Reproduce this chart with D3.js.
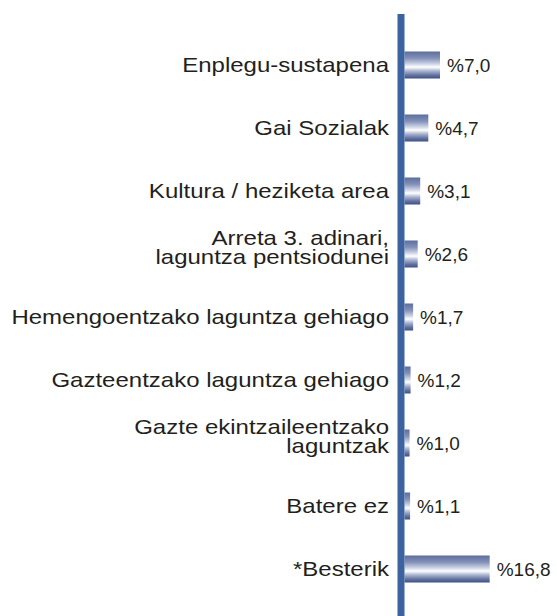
<!DOCTYPE html>
<html><head><meta charset="utf-8">
<script src="https://cdn.jsdelivr.net/npm/d3@7"></script>
<style>body{margin:0;background:#fff}</style>
</head><body>
<svg id="c" width="557" height="616"></svg>
<script>
const categories = [
  ["Enplegu-sustapena"],
  ["Gai Sozialak"],
  ["Kultura / heziketa area"],
  ["Arreta 3. adinari,", "laguntza pentsiodunei"],
  ["Hemengoentzako laguntza gehiago"],
  ["Gazteentzako laguntza gehiago"],
  ["Gazte ekintzaileentzako", "laguntzak"],
  ["Batere ez"],
  ["*Besterik"]
];
const values = [7.0, 4.7, 3.1, 2.6, 1.7, 1.2, 1.0, 1.1, 16.8];
const valueLabels = ["%7,0", "%4,7", "%3,1", "%2,6", "%1,7", "%1,2", "%1,0", "%1,1", "%16,8"];

const svg = d3.select("#c");
const ids = categories.map((c, i) => "c" + i);
const y = d3.scaleBand().domain(ids).range([33.5, 600.5]).paddingInner(0.571).paddingOuter(0.2855);
const x = d3.scaleLinear().domain([0, 20]).range([404.5, 505.9]);

const defs = svg.append("defs");
const g = defs.append("linearGradient").attr("id", "bg").attr("x1", 0).attr("y1", 0).attr("x2", 0).attr("y2", 1);
[[0, "#5c6e9e"], [0.25, "#8391b8"], [0.45, "#c9d0e3"], [0.58, "#ffffff"], [0.72, "#a9b4d0"], [0.88, "#62729f"], [1, "#3e5185"]]
  .forEach(([o, c]) => g.append("stop").attr("offset", o).attr("stop-color", c));

svg.selectAll("rect.bar").data(values).join("rect").attr("class", "bar")
  .attr("x", x(0)).attr("y", (d, i) => y(ids[i]))
  .attr("width", d => x(d) - x(0)).attr("height", y.bandwidth())
  .attr("fill", "url(#bg)");

svg.append("line").attr("x1", 401).attr("x2", 401).attr("y1", 14).attr("y2", 616)
  .attr("stroke", "#3d62a0").attr("stroke-width", 7);

const font = "'Liberation Sans', Arial, sans-serif";
svg.selectAll("text.val").data(values).join("text").attr("class", "val")
  .attr("x", d => x(d) + 7).attr("y", (d, i) => y(ids[i]) + y.bandwidth() / 2 + 7)
  .attr("font-family", font).attr("font-size", 19).attr("fill", "#231f20")
  .text((d, i) => valueLabels[i]);

const labelG = svg.append("g").attr("transform", "translate(389,0) scale(1.143,1)");
categories.forEach((lines, i) => {
  const cy = y(ids[i]) + y.bandwidth() / 2;
  const t = labelG.append("text").attr("text-anchor", "end").attr("font-family", font)
    .attr("font-size", 21).attr("fill", "#231f20");
  const n = lines.length;
  lines.forEach((ln, j) => {
    const base = n === 1 ? cy + 7.5 : cy - 2 + j * 19 - (n - 1) * 7;
    t.append("tspan").attr("x", 0).attr("y", base).text(ln);
  });
});
</script>
</body></html>
